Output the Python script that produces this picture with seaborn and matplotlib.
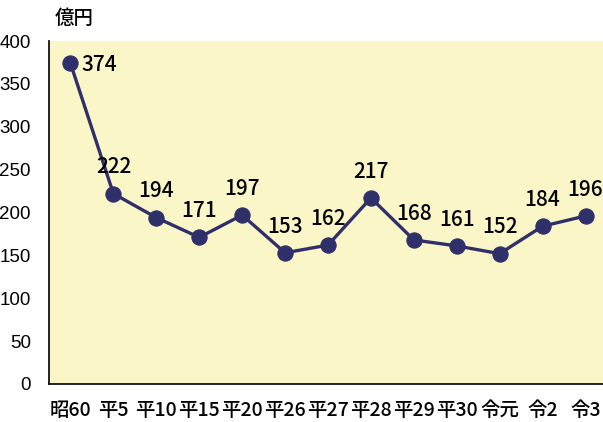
import matplotlib
matplotlib.use('Agg')
import matplotlib.pyplot as plt
import numpy as np
import pandas as pd
import seaborn as sns
from matplotlib import ticker

years = ['昭60', '平5', '平10', '平15', '平20', '平26', '平27', '平28',
         '平29', '平30', '令元', '令2', '令3']
amounts = [374, 222, 194, 171, 197, 153, 162, 217, 168, 161, 152, 184, 196]

sns.set_style('white')
plt.rcParams['font.family'] = ['Noto Sans CJK JP', 'DejaVu Sans']
plt.rcParams['text.color'] = 'black'
plt.rcParams['xtick.color'] = 'black'
plt.rcParams['ytick.color'] = 'black'

df = pd.DataFrame({'year': years, 'amount': amounts})
df['pos'] = np.arange(len(df))

fig = plt.figure(figsize=(6.03, 4.22), dpi=100)
ax = fig.add_axes([49 / 603, 38 / 422, 558 / 603, 343 / 422])
ax.set_facecolor('#FAF6C8')

navy = '#2F2F6A'
sns.lineplot(x='pos', y='amount', data=df, ax=ax, color=navy, lw=2.4,
             marker='o', markersize=11, markeredgecolor=navy)

for i, v in enumerate(amounts):
    if i == 0:
        ax.annotate(str(v), (i, v), xytext=(8, -1), textcoords='offset points',
                    ha='left', va='center', fontsize=15, weight='medium')
    else:
        ax.annotate(str(v), (i, v), xytext=(0, 11), textcoords='offset points',
                    ha='center', va='bottom', fontsize=15, weight='medium')

ax.set(xlim=(-0.5, len(years) - 0.5), ylim=(0, 400), xlabel='', ylabel='')
ax.xaxis.set_major_locator(ticker.FixedLocator(range(len(years))))
ax.xaxis.set_major_formatter(ticker.FixedFormatter(years))
ax.xaxis.set_minor_locator(ticker.FixedLocator(np.arange(0.5, len(years) - 1, 1)))
ax.yaxis.set_major_locator(ticker.MultipleLocator(50))
ax.tick_params(axis='x', which='major', length=0, pad=12, labelsize=14)
ax.tick_params(axis='x', which='minor', direction='in', length=4, width=1,
               color='#333333')
ax.tick_params(axis='y', direction='in', length=4, width=1, pad=13,
               labelsize=13.5, color='#333333')
for lab in ax.get_yticklabels():
    lab.set_family('Liberation Sans')
for lab in ax.get_xticklabels():
    lab.set_weight('medium')
for s in ['top', 'right']:
    ax.spines[s].set_visible(False)
for s in ['left', 'bottom']:
    ax.spines[s].set_color('black')
    ax.spines[s].set_linewidth(1.2)

fig.text(55 / 603, 1 - 18 / 422, '億円', fontsize=14, ha='left', va='center',
         weight='medium')

fig.savefig('out.png', dpi=100)
